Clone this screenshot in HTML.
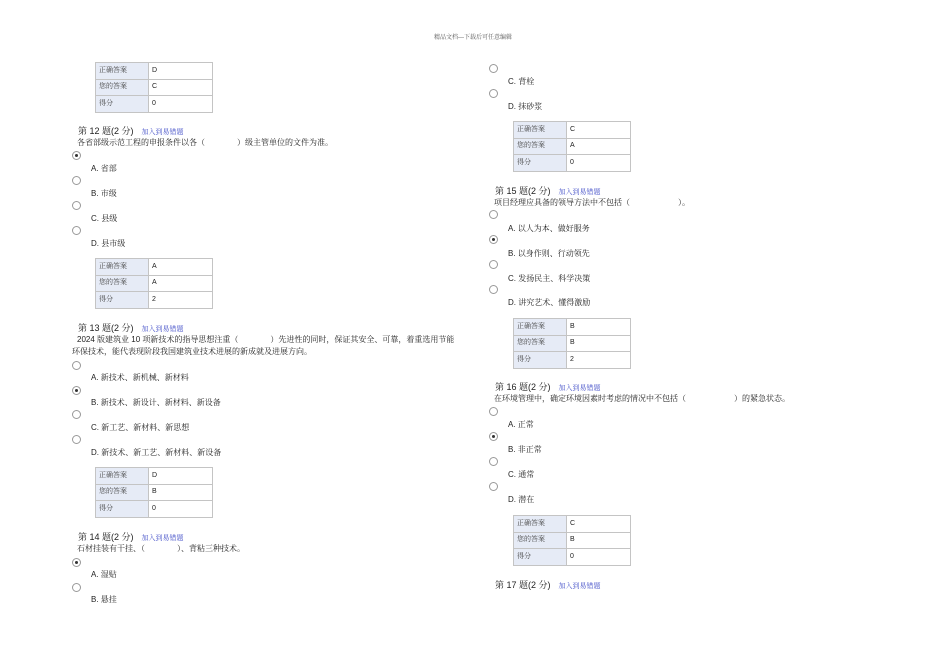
<!DOCTYPE html>
<html><head><meta charset="utf-8"><style>
body{margin:0;width:950px;height:672px;background:#fff;position:relative;overflow:hidden;font-family:"Liberation Sans","Noto Serif CJK SC","Noto Sans CJK SC",sans-serif;color:#222}
.t{position:absolute;white-space:nowrap;font-size:8px;line-height:12px}
.h{position:absolute;white-space:nowrap;font-size:9px;line-height:12px;color:#222}
.h span{color:#4450c8;font-size:7px;margin-left:8px}
.r{position:absolute;width:7px;height:7px;border:1px solid #999;border-radius:50%;background:#fff}
.r.on::after{content:"";position:absolute;left:2px;top:2px;width:3px;height:3px;border-radius:50%;background:#333}
table{position:absolute;border-collapse:collapse;font-size:7px}
td{border:1px solid #c4c4c4;height:15.5px;padding:0 0 0 3px;line-height:10px}
td.l{background:#e6ebf6;width:49px;color:#444}
td.v{width:60px}
</style></head><body>
<div class="t" style="left:434px;top:32px;font-size:6px;color:#555">精品文档---下载后可任意编辑</div>

<!-- left column -->
<table style="left:95px;top:62px"><tr><td class="l">正确答案</td><td class="v">D</td></tr><tr><td class="l">您的答案</td><td class="v">C</td></tr><tr><td class="l">得分</td><td class="v">0</td></tr></table>

<div class="h" style="left:78px;top:125px">第 12 题(2 分)<span>加入到易错题</span></div>
<div class="t" style="left:77px;top:137px">各省部级示范工程的申报条件以各（　　　　）级主管单位的文件为准。</div>
<div class="r on" style="left:72px;top:151px"></div><div class="t" style="left:91px;top:163px">A. 省部</div>
<div class="r" style="left:72px;top:176px"></div><div class="t" style="left:91px;top:188px">B. 市级</div>
<div class="r" style="left:72px;top:201px"></div><div class="t" style="left:91px;top:213px">C. 县级</div>
<div class="r" style="left:72px;top:226px"></div><div class="t" style="left:91px;top:238px">D. 县市级</div>
<table style="left:95px;top:258px"><tr><td class="l">正确答案</td><td class="v">A</td></tr><tr><td class="l">您的答案</td><td class="v">A</td></tr><tr><td class="l">得分</td><td class="v">2</td></tr></table>

<div class="h" style="left:78px;top:322px">第 13 题(2 分)<span>加入到易错题</span></div>
<div class="t" style="left:77px;top:334px">2024 版建筑业 10 项新技术的指导思想注重（　　　　）先进性的同时，保证其安全、可靠，着重选用节能</div>
<div class="t" style="left:72px;top:346px">环保技术，能代表现阶段我国建筑业技术进展的新成就及进展方向。</div>
<div class="r" style="left:72px;top:361px"></div><div class="t" style="left:91px;top:372px">A. 新技术、新机械、新材料</div>
<div class="r on" style="left:72px;top:386px"></div><div class="t" style="left:91px;top:397px">B. 新技术、新设计、新材料、新设备</div>
<div class="r" style="left:72px;top:410px"></div><div class="t" style="left:91px;top:422px">C. 新工艺、新材料、新思想</div>
<div class="r" style="left:72px;top:435px"></div><div class="t" style="left:91px;top:447px">D. 新技术、新工艺、新材料、新设备</div>
<table style="left:95px;top:467px"><tr><td class="l">正确答案</td><td class="v">D</td></tr><tr><td class="l">您的答案</td><td class="v">B</td></tr><tr><td class="l">得分</td><td class="v">0</td></tr></table>

<div class="h" style="left:78px;top:531px">第 14 题(2 分)<span>加入到易错题</span></div>
<div class="t" style="left:77px;top:543px">石材挂装有干挂、（　　　　）、背粘三种技术。</div>
<div class="r on" style="left:72px;top:558px"></div><div class="t" style="left:91px;top:569px">A. 湿贴</div>
<div class="r" style="left:72px;top:583px"></div><div class="t" style="left:91px;top:594px">B. 悬挂</div>

<!-- right column -->
<div class="r" style="left:489px;top:64px"></div><div class="t" style="left:508px;top:76px">C. 背栓</div>
<div class="r" style="left:489px;top:89px"></div><div class="t" style="left:508px;top:101px">D. 抹砂浆</div>
<table style="left:513px;top:121px"><tr><td class="l">正确答案</td><td class="v">C</td></tr><tr><td class="l">您的答案</td><td class="v">A</td></tr><tr><td class="l">得分</td><td class="v">0</td></tr></table>

<div class="h" style="left:495px;top:185px">第 15 题(2 分)<span>加入到易错题</span></div>
<div class="t" style="left:494px;top:197px">项目经理应具备的领导方法中不包括（　　　　　　）。</div>
<div class="r" style="left:489px;top:210px"></div><div class="t" style="left:508px;top:223px">A. 以人为本、做好服务</div>
<div class="r on" style="left:489px;top:235px"></div><div class="t" style="left:508px;top:248px">B. 以身作则、行动领先</div>
<div class="r" style="left:489px;top:260px"></div><div class="t" style="left:508px;top:273px">C. 发扬民主、科学决策</div>
<div class="r" style="left:489px;top:285px"></div><div class="t" style="left:508px;top:297px">D. 讲究艺术、懂得激励</div>
<table style="left:513px;top:318px"><tr><td class="l">正确答案</td><td class="v">B</td></tr><tr><td class="l">您的答案</td><td class="v">B</td></tr><tr><td class="l">得分</td><td class="v">2</td></tr></table>

<div class="h" style="left:495px;top:381px">第 16 题(2 分)<span>加入到易错题</span></div>
<div class="t" style="left:494px;top:393px">在环境管理中，确定环境因素时考虑的情况中不包括（　　　　　　）的紧急状态。</div>
<div class="r" style="left:489px;top:407px"></div><div class="t" style="left:508px;top:419px">A. 正常</div>
<div class="r on" style="left:489px;top:432px"></div><div class="t" style="left:508px;top:444px">B. 非正常</div>
<div class="r" style="left:489px;top:457px"></div><div class="t" style="left:508px;top:469px">C. 通常</div>
<div class="r" style="left:489px;top:482px"></div><div class="t" style="left:508px;top:494px">D. 潜在</div>
<table style="left:513px;top:515px"><tr><td class="l">正确答案</td><td class="v">C</td></tr><tr><td class="l">您的答案</td><td class="v">B</td></tr><tr><td class="l">得分</td><td class="v">0</td></tr></table>

<div class="h" style="left:495px;top:579px">第 17 题(2 分)<span>加入到易错题</span></div>
</body></html>
